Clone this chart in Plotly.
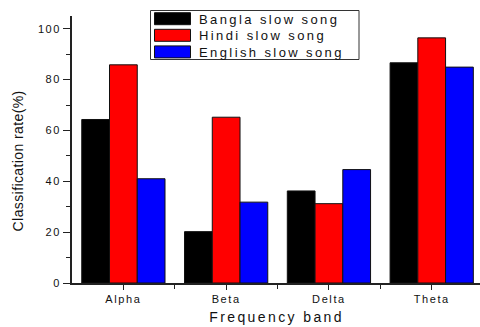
import plotly.graph_objects as go

# Classification rate (%) per EEG frequency band and song type
bands = ["Alpha", "Beta", "Delta", "Theta"]
series_names = ["Bangla slow song", "Hindi slow song", "English slow song"]
bangla = [64.3, 20.2, 36.2, 86.6]
hindi = [85.8, 65.2, 31.2, 96.4]
english = [41.0, 31.8, 44.6, 84.9]
series_values = [bangla, hindi, english]
series_colors = ["#000000", "#ff0000", "#0000ff"]
y_ticks = [0, 20, 40, 60, 80, 100]

W, H = 480, 327
L, R, T, B = 72, 0, 16, 44
PW, PH = W - L - R, H - T - B

def px(x):
    return (x - L) / PW

def py(y):
    return (H - B - y) / PH

x_pos = list(range(len(bands)))

fig = go.Figure()
for name, vals, col in zip(series_names, series_values, series_colors):
    fig.add_trace(go.Bar(
        x=x_pos, y=vals, name=name,
        marker=dict(color=col, line=dict(color="#111111", width=1)),
        showlegend=False,
    ))

font_main = "Arial, Liberation Sans, sans-serif"

# Legend drawn as a framed box with wide colour swatches
shapes = [dict(type="rect", xref="paper", yref="paper",
               x0=px(150.5), x1=px(359), y0=py(59.5), y1=py(10.5),
               line=dict(color="#333333", width=1), fillcolor="white")]
annotations = []
row_top = [12.7, 29.3, 45.9]
for name, col, top in zip(series_names, series_colors, row_top):
    shapes.append(dict(type="rect", xref="paper", yref="paper",
                       x0=px(154.5), x1=px(190.5), y0=py(top + 12), y1=py(top),
                       line=dict(color="#111111", width=1), fillcolor=col))
    annotations.append(dict(text=name, xref="paper", yref="paper",
                            x=px(197), y=py(top + 6.3), xanchor="left", yanchor="middle",
                            showarrow=False,
                            font=dict(family=font_main, size=13, color="#111111")))

# Axis titles
annotations.append(dict(text="Frequency band", xref="paper", yref="paper",
                        x=px(276), y=py(317), xanchor="center", yanchor="middle",
                        showarrow=False,
                        font=dict(family=font_main, size=14, color="#111111")))
annotations.append(dict(text="Classification rate(%)", xref="paper", yref="paper",
                        x=px(17.5), y=py(161.5), xanchor="center", yanchor="middle",
                        textangle=-90, showarrow=False,
                        font=dict(family=font_main, size=14, color="#111111")))

fig.update_layout(
    width=W, height=H,
    margin=dict(l=L, r=R, t=T, b=B, pad=0),
    paper_bgcolor="white", plot_bgcolor="white",
    barmode="group", bargap=0.19, bargroupgap=0,
    font=dict(family=font_main, color="#111111"),
    shapes=shapes, annotations=annotations,
    xaxis=dict(
        range=[-0.5, 3.47], tickmode="array", tickvals=x_pos, ticktext=bands,
        ticks="outside", ticklen=5, tickwidth=1, tickcolor="#222222",
        minor=dict(tickmode="array", tickvals=[0.5, 1.5, 2.5], ticks="outside",
                   ticklen=4, tickwidth=1, tickcolor="#222222"),
        showline=True, linecolor="#222222", linewidth=2,
        showgrid=False, zeroline=False,
        tickfont=dict(size=11, color="#111111"),
    ),
    yaxis=dict(
        range=[0, 105], tickmode="array", tickvals=y_ticks,
        ticks="outside", ticklen=7, tickwidth=1, tickcolor="#222222",
        minor=dict(dtick=10, tick0=0, ticks="outside", ticklen=4, tickwidth=1,
                   tickcolor="#222222"),
        showline=True, linecolor="#222222", linewidth=1.5,
        showgrid=False, zeroline=False,
        tickfont=dict(size=11, color="#111111"),
    ),
)

# Widen the letter spacing of the texts; legend entries keep their left edge
post = """
var gd = document.getElementById('{plot_id}');
gd.querySelectorAll('.xtick text, .ytick text').forEach(function(t){ t.style.letterSpacing = '1.6px'; });
gd.querySelectorAll('.annotation-text').forEach(function(t){
  var s = t.textContent;
  if (s.indexOf('Classification') !== -1) { t.style.letterSpacing = '0.4px'; return; }
  var w0 = t.getComputedTextLength();
  t.style.letterSpacing = '2.4px';
  if (s.indexOf('slow song') !== -1) {
    var w1 = t.getComputedTextLength();
    t.setAttribute('transform', 'translate(' + ((w1 - w0) / 2) + ',0)');
  }
});
"""

fig.write_html("out.html", post_script=post)
